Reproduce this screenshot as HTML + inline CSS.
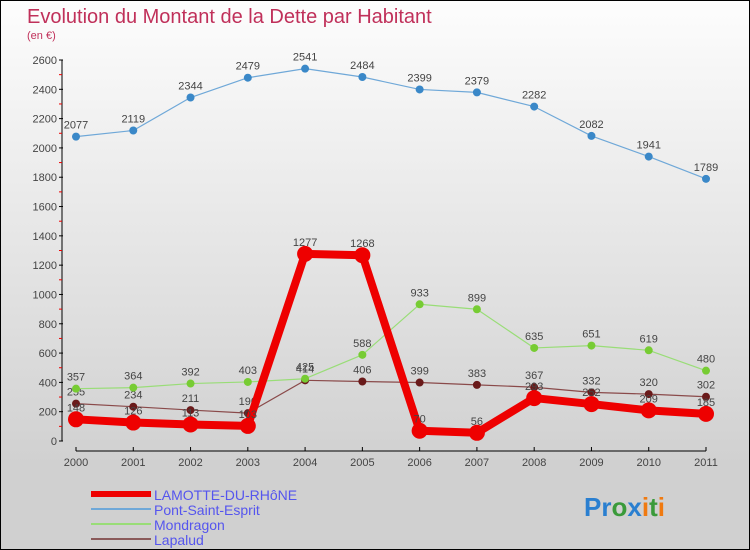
<!DOCTYPE html>
<html><head><meta charset="utf-8"><style>
body{margin:0;padding:0}
#wrap{width:750px;height:550px;position:relative;box-sizing:border-box;border:1px solid #000;background:linear-gradient(#fdfdfd,#d0d0d0 85%);font-family:"Liberation Sans",sans-serif;overflow:hidden}
svg text{font-family:"Liberation Sans",sans-serif}
</style></head><body>
<div id="wrap">
<svg id="chart" width="750" height="550">
<text x="26" y="22" font-size="20" fill="#c0305a">Evolution du Montant de la Dette par Habitant</text>
<text x="26" y="38" font-size="11" fill="#c0305a">(en €)</text>
<g id="axes"></g><g id="series"></g><g id="legend"></g>
<text x="583" y="515" font-size="26" font-weight="bold"><tspan fill="#2a7fd0">Pr</tspan><tspan fill="#3a9a3a">o</tspan><tspan fill="#2a7fd0">x</tspan><tspan fill="#f07a10">i</tspan><tspan fill="#3a9a3a">t</tspan><tspan fill="#f07a10">i</tspan></text>
</svg>
</div>
<script>
const years=["2000","2001","2002","2003","2004","2005","2006","2007","2008","2009","2010","2011"];
const lamotte=[148,126,113,103,1277,1268,70,56,293,252,209,185];
const pont=[2077,2119,2344,2479,2541,2484,2399,2379,2282,2082,1941,1789];
const mondragon=[357,364,392,403,425,588,933,899,635,651,619,480];
const lapalud=[255,234,211,190,414,406,399,383,367,332,320,302];
const yTicks=[0,200,400,600,800,1000,1200,1400,1600,1800,2000,2200,2400,2600];
const NS="http://www.w3.org/2000/svg";
const X=i=>75+i*(630/11);
const Y=v=>440-v*(381/2600);
function mk(tag,attrs,parent){const e=document.createElementNS(NS,tag);for(const k in attrs)e.setAttribute(k,attrs[k]);parent.appendChild(e);return e;}
const ax=document.getElementById('axes');
let l=mk('line',{x1:61,y1:Y(2600),x2:61,y2:440,stroke:'#000'},ax);


yTicks.forEach((t,i)=>{
 let tk=mk('line',{x1:58,x2:62,y1:Y(t),y2:Y(t),stroke:'#000'},ax);
 
 
 if(i<yTicks.length-1){let m=mk('line',{x1:58,x2:61,y1:Y(t+100),y2:Y(t+100),stroke:'#e00'},ax);
 
 }
 let tx=mk('text',{x:56,y:Y(t)+4,'font-size':11,fill:'#444','text-anchor':'end'},ax);tx.textContent=t;
 
 
});
let xa=mk('line',{x1:X(0),x2:X(11),y1:450,y2:450,stroke:'#000'},ax);


years.forEach((yr,i)=>{
 let tk=mk('line',{x1:X(i),x2:X(i),y1:446,y2:450,stroke:'#000'},ax);
 
 
 let tx=mk('text',{x:X(i),y:465,'font-size':11,fill:'#444','text-anchor':'middle'},ax);tx.textContent=yr;
 
 
});
const sg=document.getElementById('series');
function series(vals,color,w,r,dot,name){
 const g=mk('g',{},sg);
 
 
 const p=mk('polyline',{points:vals.map((v,i)=>X(i)+','+Y(v)).join(' '),fill:'none',stroke:color,'stroke-width':w,'stroke-linejoin':'round'},g);
 
 
 vals.forEach((v,i)=>{
  const c=mk('circle',{cx:X(i),cy:Y(v),r:r,fill:dot},g);
  
  
  const t=mk('text',{x:X(i),y:Y(v)-8,'font-size':11,fill:'#444','text-anchor':'middle'},g);t.textContent=v;
  
  
 });
}
series(lapalud,'#8a4a4a',1.2,4,'#6a1a1a','lapalud');
series(mondragon,'#99dd77',1.2,4,'#77cc33','mondragon');
series(pont,'#6fa8d8',1.2,4,'#3a88c8','pont-saint-esprit');
series(lamotte,'#ee0000',8,8,'#ee0000','lamotte-du-rhone');
const lg=document.getElementById('legend');
const items=[["LAMOTTE-DU-RHôNE","#ee0000",6],["Pont-Saint-Esprit","#6fa8d8",2],["Mondragon","#99dd77",2],["Lapalud","#8a5a5a",2]];
items.forEach((it,i)=>{
 const y=493+i*15;
 const ln=mk('line',{x1:90,x2:150,y1:y,y2:y,stroke:it[1],'stroke-width':it[2]},lg);
 
 
 const t=mk('text',{x:153,y:y+6,'font-size':14,fill:'#5555ee'},lg);t.textContent=it[0];
 
 
});
</script>
</body></html>
